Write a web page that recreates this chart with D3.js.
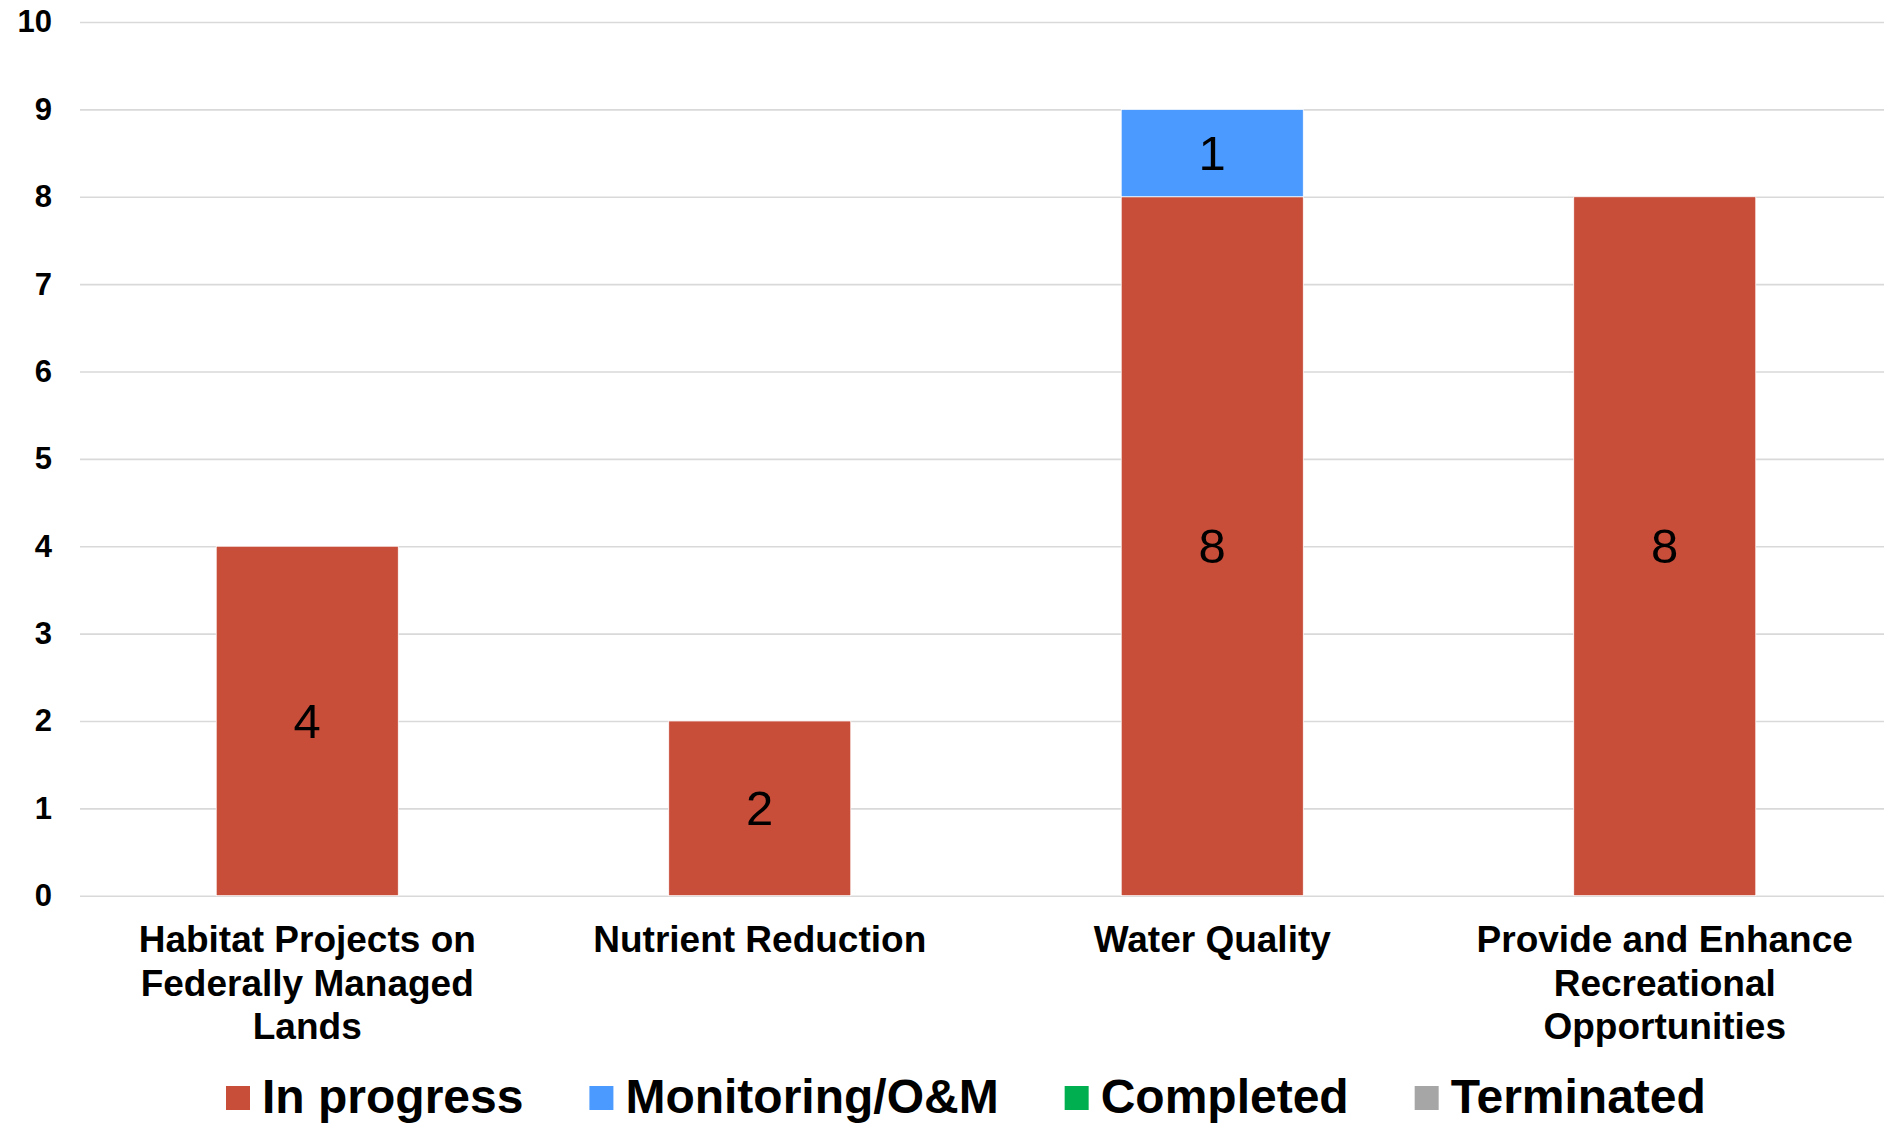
<!DOCTYPE html>
<html>
<head>
<meta charset="utf-8">
<script src="https://cdn.jsdelivr.net/npm/d3@7/dist/d3.min.js"></script>
<style>
  html, body { margin: 0; padding: 0; background: #ffffff; overflow: hidden; }
  svg { display: block; font-family: "Liberation Sans", Arial, sans-serif; }
</style>
</head>
<body>
<svg id="chart" width="1884" height="1123"></svg>
<script>
// ---- Data ----
const categories = [
  "Habitat Projects on Federally Managed Lands",
  "Nutrient Reduction",
  "Water Quality",
  "Provide and Enhance Recreational Opportunities"
];
const categoryLines = [
  ["Habitat Projects on", "Federally Managed", "Lands"],
  ["Nutrient Reduction"],
  ["Water Quality"],
  ["Provide and Enhance", "Recreational", "Opportunities"]
];
const seriesNames = ["In progress", "Monitoring/O&M", "Completed", "Terminated"];
const inProgress = [4, 2, 8, 8];
const monitoring = [0, 0, 1, 0];
const completed = [0, 0, 0, 0];
const terminated = [0, 0, 0, 0];
const yTicks = [0, 1, 2, 3, 4, 5, 6, 7, 8, 9, 10];
const colors = ["#C84E3A", "#4B9AFF", "#00B050", "#A6A6A6"];

// ---- Build table ----
const table = categories.map((c, i) => ({
  category: c,
  "In progress": inProgress[i],
  "Monitoring/O&M": monitoring[i],
  "Completed": completed[i],
  "Terminated": terminated[i]
}));

const svg = d3.select("#chart");
const plotLeft = 80, plotRight = 1891, plotTop = 22, plotBottom = 895.7;

const x = d3.scaleBand().domain(categories).range([plotLeft + 1, plotRight])
  .paddingInner(0.5976).paddingOuter(0.2988);
const y = d3.scaleLinear().domain([0, 10]).range([plotBottom, plotTop]);
const color = d3.scaleOrdinal().domain(seriesNames).range(colors);

// gridlines
const grid = svg.append("g").attr("transform", `translate(${plotLeft},0)`)
  .call(d3.axisLeft(y).tickValues(yTicks).tickSize(-(plotRight - plotLeft)).tickFormat(""));
grid.select(".domain").remove();
grid.selectAll("line").attr("stroke", "#d9d9d9").attr("stroke-width", 1.6);

// y labels
const yAxis = svg.append("g").attr("transform", `translate(${plotLeft},0)`)
  .call(d3.axisLeft(y).tickValues(yTicks).tickSize(0).tickPadding(28).tickFormat(d3.format("d")));
yAxis.select(".domain").remove();
yAxis.selectAll("text")
  .attr("font-family", "'Liberation Sans', Arial, sans-serif")
  .attr("font-size", 31).attr("font-weight", "bold").attr("fill", "#000");

// stacked bars
const stack = d3.stack().keys(seriesNames);
const layers = stack(table);
const layerG = svg.append("g").selectAll("g").data(layers).join("g")
  .attr("fill", d => color(d.key));
layerG.selectAll("rect").data(d => d.filter(s => s[1] - s[0] > 0))
  .join("rect")
  .attr("x", d => x(d.data.category))
  .attr("width", x.bandwidth())
  .attr("y", d => y(d[1]))
  .attr("height", d => y(d[0]) - y(d[1]))
  .attr("stroke", "#ffffff").attr("stroke-width", 0.8);

// data labels
const labG = svg.append("g");
layers.forEach(layer => {
  layer.filter(s => s[1] - s[0] > 0).forEach(s => {
    labG.append("text")
      .attr("x", x(s.data.category) + x.bandwidth() / 2)
      .attr("y", y((s[0] + s[1]) / 2))
      .attr("text-anchor", "middle")
      .attr("dominant-baseline", "central")
      .attr("font-size", 49)
      .attr("fill", "#000")
      .text(s[1] - s[0]);
  });
});

// category labels
const catG = svg.append("g");
categories.forEach((c, i) => {
  const cx = x(c) + x.bandwidth() / 2;
  const t = catG.append("text")
    .attr("x", cx)
    .attr("y", 952)
    .attr("text-anchor", "middle")
    .attr("font-size", 37).attr("font-weight", "bold").attr("fill", "#000");
  categoryLines[i].forEach((ln, j) => {
    t.append("tspan").attr("x", cx).attr("dy", j === 0 ? 0 : 43.5).text(ln);
  });
});

// legend
const legend = svg.append("g");
let lx = 226;
seriesNames.forEach((name, i) => {
  legend.append("rect").attr("x", lx).attr("y", 1086).attr("width", 24).attr("height", 24)
    .attr("fill", colors[i]);
  const t = legend.append("text").attr("x", lx + 36).attr("y", 1113)
    .attr("font-size", 48).attr("font-weight", "bold").attr("fill", "#000").text(name);
  const w = t.node().getComputedTextLength();
  lx = lx + 36 + w + 66;
});
</script>
</body>
</html>
